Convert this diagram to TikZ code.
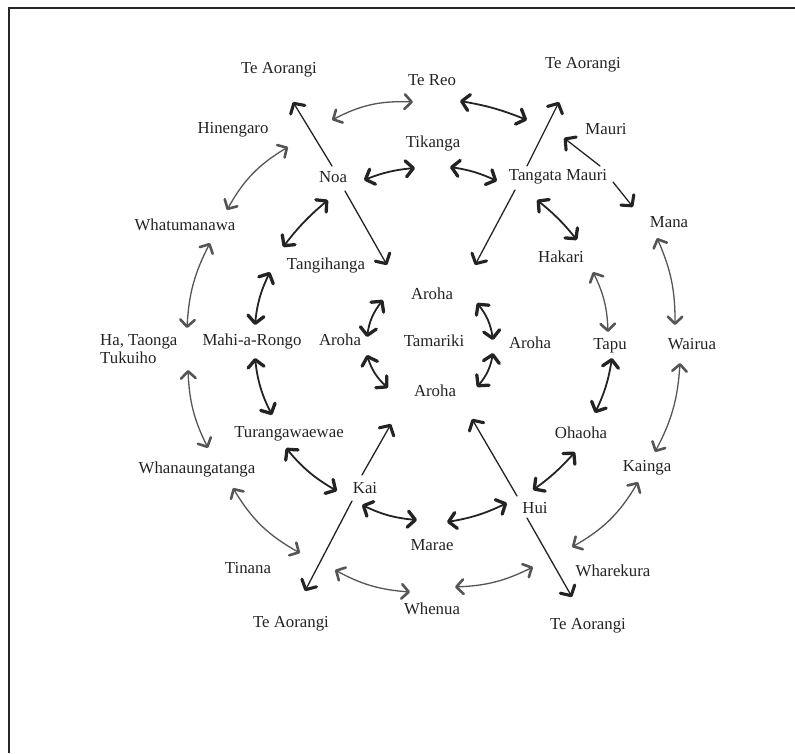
\documentclass[tikz,border=0pt]{standalone}
\usepackage{fontspec}
\setmainfont{Liberation Serif}
\usetikzlibrary{arrows.meta}
\definecolor{ink}{HTML}{232323}
\definecolor{faint}{HTML}{555555}
\tikzset{
  ChevD/.tip={Straight Barb[length=7.5pt,width=16pt,line width=3.3pt,round]},
  ChevL/.tip={Straight Barb[length=7pt,width=14.5pt,line width=2.6pt,round]},
  ChevS/.tip={Straight Barb[length=7.5pt,width=16.5pt,line width=3.1pt,round]},
}
\begin{document}
\begin{tikzpicture}[x=1pt,y=-1pt,
  lbl/.style={anchor=base, inner sep=0pt, text=ink,
              font=\fontsize{16.8}{18}\selectfont},
  inner/.style={draw=ink, line width=1.8pt, line cap=round, ChevD-ChevD},
  outer/.style={draw=faint, line width=1.3pt, line cap=round, ChevL-ChevL},
  spoke/.style={draw=ink, line width=1.3pt, line cap=round, -ChevS},
]
\useasboundingbox (0,0) rectangle (795,753);
% page frame (top and left edges)
\draw[line width=2.3pt, black!85] (9,753) -- (9,8) -- (795,8);

% ---- labels ----
\node[lbl] (aoTL)     at (279,73)  {Te Aorangi};
\node[lbl] (tereo)    at (432,85)  {Te Reo};
\node[lbl] (aoTR)     at (583,68)  {Te Aorangi};
\node[lbl] (hinengaro) at (233,133) {Hinengaro};
\node[lbl] (mauri)    at (606,134) {Mauri};
\node[lbl] (tikanga)  at (433,147) {Tikanga};
\node[lbl] (noa)      at (333,182) {Noa};
\node[lbl] (tangata)  at (558,180) {Tangata Mauri};
\node[lbl] (mana)     at (669,227) {Mana};
\node[lbl] (whatu)    at (185,230) {Whatumanawa};
\node[lbl] (tangi)    at (326,269) {Tangihanga};
\node[lbl] (hakari)   at (561,262) {Hakari};
\node[lbl] (arT)      at (432,299) {Aroha};
\node[lbl] (mahi)     at (252,345) {Mahi-a-Rongo};
\node[lbl] (arL)      at (340,345) {Aroha};
\node[lbl] (tamariki) at (434,346) {Tamariki};
\node[lbl] (arR)      at (530,348) {Aroha};
\node[lbl] (tapu)     at (610,349) {Tapu};
\node[lbl] (wairua)   at (692,349) {Wairua};
\node[anchor=west, inner sep=0pt, text=ink, align=left,
      font=\fontsize{16.8}{18}\selectfont] (ha) at (100,349) {Ha, Taonga\\Tukuiho};
\node[lbl] (arB)      at (435,396) {Aroha};
\node[lbl] (turanga)  at (289,437) {Turangawaewae};
\node[lbl] (ohaoha)   at (581,438) {Ohaoha};
\node[lbl] (kainga)   at (647,471) {Kainga};
\node[lbl] (whanau)   at (197,473) {Whanaungatanga};
\node[lbl] (kai)      at (365,493) {Kai};
\node[lbl] (hui)      at (535,513) {Hui};
\node[lbl] (marae)    at (432,550) {Marae};
\node[lbl] (tinana)   at (248,573) {Tinana};
\node[lbl] (wharekura) at (613,576) {Wharekura};
\node[lbl] (whenua)   at (432,614) {Whenua};
\node[lbl] (aoBL)     at (291,627) {Te Aorangi};
\node[lbl] (aoBR)     at (588,629) {Te Aorangi};

% ---- connector end points ----
\coordinate (reoA) at (332,120);  \coordinate (reoB) at (413,102);
\coordinate (reoC) at (460,101);  \coordinate (reoD) at (527,120);
\coordinate (tikA) at (364,180);  \coordinate (tikB) at (415,168);
\coordinate (tikC) at (450,167);  \coordinate (tikD) at (497,181);
\coordinate (hinA) at (227,210);  \coordinate (hinB) at (288,147);
\coordinate (whaA) at (187,328);  \coordinate (whaB) at (210,243);
\coordinate (haA)  at (208,448);  \coordinate (haB)  at (188,370);
\coordinate (wnA)  at (300,553);  \coordinate (wnB)  at (233,488);
\coordinate (wheA) at (410,592);  \coordinate (wheB) at (335,570);
\coordinate (wheC) at (533,567);  \coordinate (wheD) at (455,587);
\coordinate (kgA)  at (638,482);  \coordinate (kgB)  at (572,547);
\coordinate (wrA)  at (680,363);  \coordinate (wrB)  at (655,452);
\coordinate (mnA)  at (657,238);  \coordinate (mnB)  at (675,325);
\coordinate (hkA)  at (593,272);  \coordinate (hkB)  at (608,332);
\coordinate (ntA)  at (283,247);  \coordinate (ntB)  at (328,200);
\coordinate (tmA)  at (255,325);  \coordinate (tmB)  at (270,272);
\coordinate (mtA)  at (272,415);  \coordinate (mtB)  at (255,358);
\coordinate (tkA)  at (337,491);  \coordinate (tkB)  at (286,448);
\coordinate (kmA)  at (417,520);  \coordinate (kmB)  at (362,505);
\coordinate (mhA)  at (507,503);  \coordinate (mhB)  at (447,522);
\coordinate (hoA)  at (575,452);  \coordinate (hoB)  at (533,490);
\coordinate (toA)  at (612,358);  \coordinate (toB)  at (595,413);
\coordinate (thA)  at (537,200);  \coordinate (thB)  at (577,240);
\coordinate (a1A)  at (367,337);  \coordinate (a1B)  at (383,300);
\coordinate (a2A)  at (388,388);  \coordinate (a2B)  at (367,355);
\coordinate (a3A)  at (477,303);  \coordinate (a3B)  at (493,340);
\coordinate (a4A)  at (493,353);  \coordinate (a4B)  at (477,387);
% spoke ends
\coordinate (noaUp) at (332,166); \coordinate (noaUpT) at (293,102);
\coordinate (noaDn) at (345,191); \coordinate (noaDnT) at (387,265);
\coordinate (tmUp)  at (527,166); \coordinate (tmUpT)  at (559,102);
\coordinate (tmDn)  at (515,190); \coordinate (tmDnT)  at (475,265);
\coordinate (tmMa)  at (600,166); \coordinate (tmMaT)  at (564,138);
\coordinate (tmMn)  at (613,182); \coordinate (tmMnT)  at (633,207);
\coordinate (kaiUp) at (362,475); \coordinate (kaiUpT) at (391,424);
\coordinate (kaiDn) at (352,501); \coordinate (kaiDnT) at (305,591);
\coordinate (huiUp) at (517,496); \coordinate (huiUpT) at (472,419);
\coordinate (huiDn) at (527,518); \coordinate (huiDnT) at (572,597);

% ---- outer ring ----
\draw[outer] (reoA) to[bend left=15] (reoB);
\draw[outer] (hinA) to[bend left=15] (hinB);
\draw[outer] (whaA) to[bend left=12] (whaB);
\draw[outer] (haA)  to[bend left=12] (haB);
\draw[outer] (wnA)  to[bend left=15] (wnB);
\draw[outer] (wheA) to[bend left=12] (wheB);
\draw[outer] (wheC) to[bend left=12] (wheD);
\draw[outer] (kgA)  to[bend left=15] (kgB);
\draw[outer] (wrA)  to[bend left=12] (wrB);
\draw[outer] (mnA)  to[bend left=12] (mnB);
\draw[outer] (hkA)  to[bend left=12] (hkB);

% ---- middle ring ----
\draw[inner] (reoC) to[bend left=6] (reoD);
\draw[inner] (tikA) to[bend left=8] (tikB);
\draw[inner] (tikC) to[bend left=8] (tikD);
\draw[inner] (ntA)  to[bend left=6] (ntB);
\draw[inner] (tmA)  to[bend left=10] (tmB);
\draw[inner] (mtA)  to[bend left=10] (mtB);
\draw[inner] (tkA)  to[bend left=10] (tkB);
\draw[inner] (kmA)  to[bend left=10] (kmB);
\draw[inner] (mhA)  to[bend left=8] (mhB);
\draw[inner] (hoA)  to[bend left=6] (hoB);
\draw[inner] (toA)  to[bend left=8] (toB);
\draw[inner] (thA)  to[bend left=6] (thB);

% ---- inner ring round Tamariki ----
\draw[inner] (a1A) to[bend left=15] (a1B);
\draw[inner] (a2A) to[bend left=15] (a2B);
\draw[inner] (a3A) to[bend left=15] (a3B);
\draw[inner] (a4A) to[bend left=15] (a4B);

% ---- spokes ----
\draw[spoke] (noaUp) -- (noaUpT);
\draw[spoke] (noaDn) -- (noaDnT);
\draw[spoke] (tmUp)  -- (tmUpT);
\draw[spoke] (tmDn)  -- (tmDnT);
\draw[spoke] (tmMa)  -- (tmMaT);
\draw[spoke] (tmMn)  -- (tmMnT);
\draw[spoke] (kaiUp) -- (kaiUpT);
\draw[spoke] (kaiDn) -- (kaiDnT);
\draw[spoke] (huiUp) -- (huiUpT);
\draw[spoke] (huiDn) -- (huiDnT);
\end{tikzpicture}
\end{document}
